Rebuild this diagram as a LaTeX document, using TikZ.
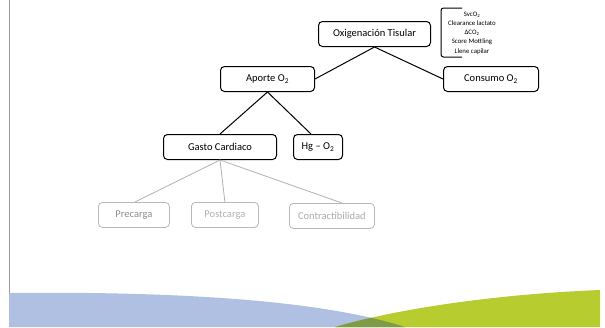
\documentclass[tikz,border=0pt]{standalone}
\usepackage{fontspec}
\setmainfont{Carlito}
\begin{document}
\begin{tikzpicture}[x=1pt,y=-1pt,
  box/.style={draw=black,line width=1pt,rounded corners=4pt,fill=white,
    font=\fontsize{10.5}{12}\selectfont,inner sep=0pt,anchor=north west},
  softbox/.style={box,draw=black!28,text=black!45,line width=0.8pt},
  link/.style={line width=1pt,black},
  softlink/.style={line width=0.8pt,black!30}]
\useasboundingbox (0,0) rectangle (605,327);
\fill[white] (0,0) rectangle (605,327);

% coloured bands at the foot
\definecolor{bandblue}{HTML}{B0C0E2}
\definecolor{bandgreen}{HTML}{B6CC2F}
\definecolor{bandolive}{HTML}{7E9C47}
\fill[bandblue] (9,293) .. controls (200,291) and (330,303) .. (405,327) -- (9,327) -- cycle;
\fill[bandgreen] (600,290) .. controls (500,294) and (400,308) .. (335,327) -- (600,327) -- cycle;
\begin{scope}
  \clip (9,293) .. controls (200,291) and (330,303) .. (405,327) -- (9,327) -- cycle;
  \fill[bandolive] (600,290) .. controls (500,294) and (400,308) .. (335,327) -- (600,327) -- cycle;
\end{scope}
\draw[black!40,line width=0.8pt] (9,0) -- (9,293);

% boxes
\node[box,minimum width=112pt,minimum height=25pt] (oxi) at (318,21) {Oxigenación Tisular};
\node[box,minimum width=94pt,minimum height=25pt] (aporte) at (220,66) {Aporte O\textsubscript{2}};
\node[box,minimum width=95pt,minimum height=25pt] (consumo) at (443,66) {Consumo O\textsubscript{2}};
\node[box,minimum width=113pt,minimum height=25pt] (gasto) at (163,134) {Gasto Cardiaco};
\node[box,minimum width=49pt,minimum height=25pt] (hg) at (293,134) {Hg – O\textsubscript{2}};
\node[softbox,minimum width=71pt,minimum height=25pt] (pre) at (98,202) {Precarga};
\node[softbox,minimum width=67pt,minimum height=25pt,text=black!30] (post) at (191,202) {Postcarga};
\node[softbox,minimum width=85pt,minimum height=25pt,text=black!33] (contr) at (289,203) {Contractibilidad};

% connectors
\draw[link] (oxi.south) -- (aporte.east);
\draw[link] (oxi.south) -- (consumo.west);
\draw[link] (aporte.south) -- (gasto.north);
\draw[link] (aporte.south) -- ([xshift=-7pt]hg.north);
\draw[softlink] (gasto.south) -- ([xshift=1pt]pre.north);
\draw[softlink] (gasto.south) -- (post.north);
\draw[softlink] (gasto.south) -- ([xshift=10pt]contr.north);

% indicator list with its bracket
\coordinate (bt) at (462,8);
\coordinate (bb) at (462,57);
\draw[black,line width=1pt,rounded corners=2.5pt] (bt) -- (441,8) -- (441,57) -- (bb);
\node[font=\fontsize{6.8}{9.2}\selectfont,align=center,inner sep=0pt] (list) at (472,33)
  {SvcO\textsubscript{2}\\Clearance lactato\\ΔCO\textsubscript{2}\\Score Mottling\\Llene capilar};
\end{tikzpicture}
\end{document}
